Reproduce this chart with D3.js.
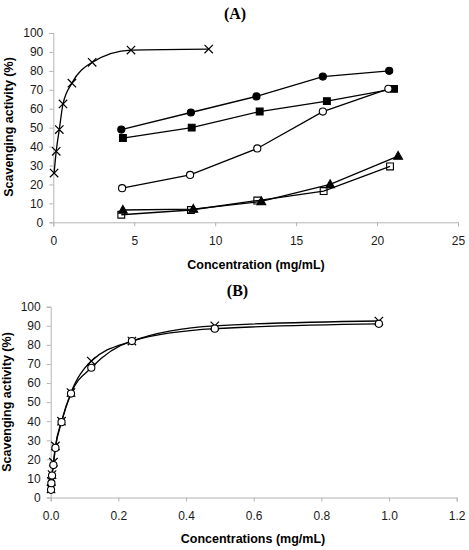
<!DOCTYPE html>
<html>
<head>
<meta charset="utf-8">
<script src="https://cdn.jsdelivr.net/npm/d3@7"></script>
<style>
  body { margin: 0; background: #fff; }
  svg { display: block; }
  .tick text { font-family: "Liberation Sans", Arial, sans-serif; font-size: 12px; fill: #1a1a1a; }
  .axis path, .axis line { stroke: #b4b4b4; }
</style>
</head>
<body>
<svg id="chart" width="469" height="550"></svg>
<script>
// panel A
const ticksAX = [0, 5, 10, 15, 20, 25];
const ticksY = [0, 10, 20, 30, 40, 50, 60, 70, 80, 90, 100];

const concCross = [0.05, 0.18, 0.37, 0.6, 1.15, 2.4, 4.8, 9.6];
const actCross = [26, 37.5, 49, 62.5, 73.5, 84.5, 91, 91.5];
const concDot = [4.2, 8.5, 12.55, 16.65, 20.75];
const actDot = [49, 58, 66.5, 77, 80];
const concSquare = [4.3, 8.55, 12.75, 16.9, 21.05];
const actSquare = [44.5, 50, 58.5, 64, 70.5];
const concRing = [4.25, 8.45, 12.6, 16.65, 20.7];
const actRing = [18, 25, 39, 58.5, 70.5];
const concTriangle = [4.3, 8.65, 12.85, 17.1, 21.3];
const actTriangle = [6.5, 7, 11, 20, 35];
const concOpenSquare = [4.2, 8.5, 12.6, 16.7, 20.8];
const actOpenSquare = [4, 6.5, 11.5, 16.5, 29.5];

// panel B
const ticksBX = [0, 0.2, 0.4, 0.6, 0.8, 1, 1.2];
const concB = [0.001, 0.002, 0.004, 0.008, 0.014, 0.032, 0.06, 0.12, 0.24, 0.485, 0.97];
const actBCross = [4.5, 8.5, 12, 18.5, 27, 40, 55, 71.5, 82, 90, 92.5];
const actBRing = [4, 7.5, 11.5, 17, 26, 39.5, 54.5, 68, 82, 88.5, 91];

const svg = d3.select("#chart");

function zip(xs, ys) {
  return xs.map((x, i) => ({ x: x, y: ys[i] }));
}

function marker(kind) {
  if (kind === "cross") return "M-4.2,-4.2L4.2,4.2M-4.2,4.2L4.2,-4.2";
  if (kind === "circle" || kind === "ring") return d3.symbol(d3.symbolCircle, 40)();
  if (kind === "square" || kind === "openSquare") return "M-3.4,-3.4H3.4V3.4H-3.4Z";
  if (kind === "triangle") return "M0,-4.6L4.4,3.2H-4.4Z";
}

function drawPanel(opt) {
  const x = d3.scaleLinear().domain(opt.xDomain).range([opt.left, opt.right]);
  const y = d3.scaleLinear().domain([0, 100]).range([opt.bottom, opt.top]);

  svg.append("g")
    .attr("class", "axis")
    .attr("transform", "translate(0," + opt.bottom + ")")
    .call(d3.axisBottom(x).tickValues(opt.xTicks).tickSizeOuter(0).tickSize(4).tickPadding(10));

  svg.append("g")
    .attr("class", "axis")
    .attr("transform", "translate(" + opt.left + ",0)")
    .call(d3.axisLeft(y).tickValues(ticksY).tickSizeOuter(0).tickSize(4).tickPadding(6));

  // titles
  svg.append("text")
    .attr("x", opt.titleX).attr("y", opt.titleY)
    .attr("text-anchor", "middle")
    .style("font-family", "'Liberation Serif', 'Times New Roman', serif")
    .style("font-weight", "bold").style("font-size", "16px")
    .text(opt.title);

  svg.append("text")
    .attr("x", opt.xLabelX).attr("y", opt.xLabelY)
    .attr("text-anchor", "middle")
    .style("font-family", "'Liberation Sans', Arial, sans-serif")
    .style("font-weight", "bold").style("font-size", "12.5px")
    .text(opt.xLabel);

  svg.append("text")
    .attr("transform", "translate(" + opt.yLabelX + "," + opt.yLabelY + ") rotate(-90)")
    .attr("text-anchor", "middle")
    .style("font-family", "'Liberation Sans', Arial, sans-serif")
    .style("font-weight", "bold").style("font-size", "12.5px")
    .text("Scavenging activity (%)");

  opt.series.forEach((s) => {
    const pts = zip(s.xs, s.ys);
    const line = d3.line()
      .x((d) => x(d.x))
      .y((d) => y(d.y))
      .curve(s.smooth ? d3.curveMonotoneX : d3.curveLinear);

    svg.append("path")
      .datum(pts)
      .attr("fill", "none")
      .attr("stroke", "#000")
      .attr("stroke-width", 1.3)
      .attr("d", line);
  });

  opt.series.forEach((s) => {
    const pts = zip(s.xs, s.ys);
    const hollow = s.kind === "ring" || s.kind === "openSquare" || s.kind === "cross";
    svg.append("g")
      .selectAll("path")
      .data(pts)
      .enter()
      .append("path")
      .attr("transform", (d) => "translate(" + x(d.x) + "," + y(d.y) + ")")
      .attr("d", marker(s.kind))
      .attr("fill", s.kind === "ring" ? "#fff" : hollow ? "none" : "#000")
      .attr("stroke", "#000")
      .attr("stroke-width", s.kind === "cross" ? 1.2 : 1.1);
  });
}

drawPanel({
  xDomain: [0, 25], xTicks: ticksAX,
  left: 53.3, right: 458, top: 33, bottom: 222.3,
  title: "(A)", titleX: 235, titleY: 19,
  xLabel: "Concentration (mg/mL)", xLabelX: 256, xLabelY: 269,
  yLabelX: 13, yLabelY: 127,
  series: [
    { xs: concCross, ys: actCross, kind: "cross", smooth: true },
    { xs: concDot, ys: actDot, kind: "circle" },
    { xs: concSquare, ys: actSquare, kind: "square" },
    { xs: concRing, ys: actRing, kind: "ring" },
    { xs: concTriangle, ys: actTriangle, kind: "triangle" },
    { xs: concOpenSquare, ys: actOpenSquare, kind: "openSquare" },
  ],
});

drawPanel({
  xDomain: [0, 1.2], xTicks: ticksBX,
  left: 50.7, right: 456.7, top: 306.7, bottom: 497.5,
  title: "(B)", titleX: 237.5, titleY: 296,
  xLabel: "Concentrations (mg/mL)", xLabelX: 253, xLabelY: 543,
  yLabelX: 11, yLabelY: 402,
  series: [
    { xs: concB, ys: actBCross, kind: "cross", smooth: true },
    { xs: concB, ys: actBRing, kind: "ring", smooth: true },
  ],
});
</script>
</body>
</html>
